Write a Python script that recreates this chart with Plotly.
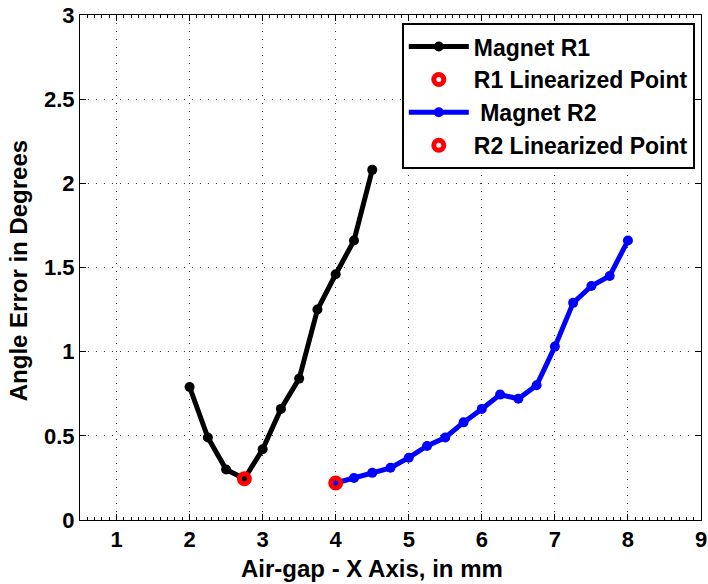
import plotly.graph_objects as go

# Magnet R1 data
r1_x = [2.0, 2.25, 2.5, 2.75, 3.0, 3.25, 3.5, 3.75, 4.0, 4.25, 4.5]
r1_y = [0.79, 0.49, 0.30, 0.245, 0.42, 0.66, 0.84, 1.25, 1.46, 1.66, 2.08]

# Magnet R2 data
r2_x = [4.0, 4.25, 4.5, 4.75, 5.0, 5.25, 5.5, 5.75, 6.0, 6.25, 6.5, 6.75, 7.0, 7.25, 7.5, 7.75, 8.0]
r2_y = [0.22, 0.25, 0.28, 0.31, 0.37, 0.44, 0.49, 0.58, 0.66, 0.745, 0.72, 0.80, 1.03, 1.29, 1.39, 1.45, 1.66]

# Linearized points
lin1_x = [2.75]
lin1_y = [0.245]
lin2_x = [4.0]
lin2_y = [0.22]

x_ticks = [1, 2, 3, 4, 5, 6, 7, 8, 9]
y_ticks = [0, 0.5, 1, 1.5, 2, 2.5, 3]

x_title = "Air-gap - X Axis, in mm"
y_title = "Angle Error in Degrees"

FONT = "Liberation Sans, Arial, Helvetica, sans-serif"

fig = go.Figure()
fig.add_trace(go.Scatter(x=r1_x, y=r1_y, mode="lines+markers", name="Magnet R1",
                         line=dict(color="black", width=5),
                         marker=dict(symbol="circle", size=10, color="black")))
fig.add_trace(go.Scatter(x=lin1_x, y=lin1_y, mode="markers", name="R1 Linearized Point",
                         marker=dict(symbol="circle-open", size=10, color="red",
                                     line=dict(color="red", width=5))))
fig.add_trace(go.Scatter(x=r2_x, y=r2_y, mode="lines+markers", name=" Magnet R2",
                         line=dict(color="#0000FF", width=5),
                         marker=dict(symbol="circle", size=10, color="#0000FF")))
fig.add_trace(go.Scatter(x=lin2_x, y=lin2_y, mode="markers", name="R2 Linearized Point",
                         marker=dict(symbol="circle-open", size=10, color="red",
                                     line=dict(color="red", width=5))))

axis_common = dict(
    showline=True, linecolor="black", linewidth=1, mirror="ticks",
    ticks="inside", ticklen=6, tickcolor="black", tickwidth=1,
    showgrid=True, gridcolor="#333333", gridwidth=1, griddash="1px,7px",
    zeroline=False, ticklabeloverflow="allow", automargin=False,
    tickfont=dict(family=FONT, size=22, color="black", weight="bold"),
)

fig.update_xaxes(range=[0.5, 9], tickmode="array", tickvals=x_ticks,
                 minor=dict(ticks="inside", ticklen=3, dtick=0.1, tickcolor="black", showgrid=False),
                 **axis_common)
fig.update_yaxes(range=[0, 3], tickmode="array", tickvals=y_ticks, **axis_common)

title_font = dict(family=FONT, size=24, color="black", weight="bold")
fig.add_annotation(text=x_title, xref="paper", yref="paper", x=0.47, y=-0.097,
                   xanchor="center", yanchor="middle", showarrow=False, font=title_font)
fig.add_annotation(text=y_title, xref="paper", yref="paper", x=-0.0995, y=0.493,
                   xanchor="center", yanchor="middle", showarrow=False, textangle=-90,
                   font=title_font)

fig.update_layout(
    width=708, height=584,
    margin=dict(l=80, r=7, t=15, b=64, autoexpand=False),
    paper_bgcolor="white", plot_bgcolor="white",
    showlegend=True,
    legend=dict(x=0.99, y=0.984, xanchor="right", yanchor="top",
                bgcolor="white", bordercolor="black", borderwidth=2,
                font=dict(family=FONT, size=23, color="black", weight="bold"),
                itemwidth=60, tracegroupgap=0),
    font=dict(family=FONT, color="black"),
)

fig.write_html("out.html")
